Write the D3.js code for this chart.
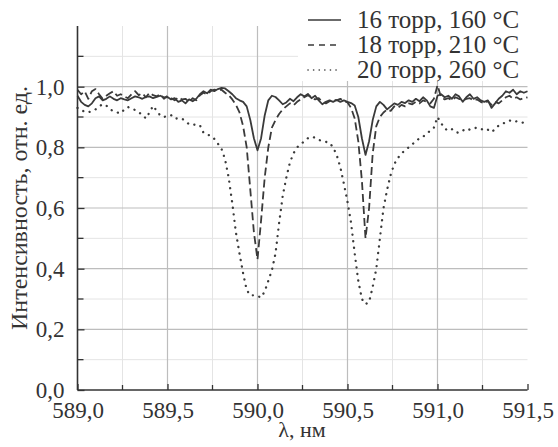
<!DOCTYPE html>
<html>
<head>
<meta charset="utf-8">
<title>Спектры поглощения</title>
<script src="https://cdn.jsdelivr.net/npm/d3@7/dist/d3.min.js"></script>
<style>
  body { margin: 0; background: #fff; }
  text { font-family: "Liberation Serif", "DejaVu Serif", serif; fill: #333; }
</style>
</head>
<body>
<script>

// wavelength grid, nm
var wavelength = [
  589.00, 589.02, 589.04, 589.06, 589.08, 589.10, 589.12, 589.14, 589.16, 589.18,
  589.20, 589.22, 589.24, 589.26, 589.28, 589.30, 589.32, 589.34, 589.36, 589.38,
  589.40, 589.42, 589.44, 589.46, 589.48, 589.50, 589.52, 589.54, 589.56, 589.58,
  589.60, 589.62, 589.64, 589.66, 589.68, 589.70, 589.72, 589.74, 589.76, 589.78,
  589.80, 589.82, 589.84, 589.86, 589.88, 589.90, 589.92, 589.94, 589.96, 589.98,
  590.00, 590.02, 590.04, 590.06, 590.08, 590.10, 590.12, 590.14, 590.16, 590.18,
  590.20, 590.22, 590.24, 590.26, 590.28, 590.30, 590.32, 590.34, 590.36, 590.38,
  590.40, 590.42, 590.44, 590.46, 590.48, 590.50, 590.52, 590.54, 590.56, 590.58,
  590.60, 590.62, 590.64, 590.66, 590.68, 590.70, 590.72, 590.74, 590.76, 590.78,
  590.80, 590.82, 590.84, 590.86, 590.88, 590.90, 590.92, 590.94, 590.96, 590.98,
  591.00, 591.02, 591.04, 591.06, 591.08, 591.10, 591.12, 591.14, 591.16, 591.18,
  591.20, 591.22, 591.24, 591.26, 591.28, 591.30, 591.32, 591.34, 591.36, 591.38,
  591.40, 591.42, 591.44, 591.46, 591.48, 591.50
];

// 16 торр, 160 °C
var torr16 = [
  0.970, 0.950, 0.940, 0.935, 0.945, 0.962, 0.968, 0.955, 0.960, 0.968,
  0.960, 0.955, 0.962, 0.958, 0.955, 0.962, 0.968, 0.965, 0.960, 0.966,
  0.968, 0.962, 0.966, 0.970, 0.965, 0.966, 0.958, 0.962, 0.950, 0.955,
  0.945, 0.958, 0.952, 0.960, 0.975, 0.985, 0.978, 0.990, 0.985, 0.992,
  0.996, 0.994, 0.985, 0.975, 0.962, 0.955, 0.950, 0.935, 0.890, 0.830,
  0.790, 0.830, 0.905, 0.955, 0.970, 0.966, 0.955, 0.942, 0.948, 0.960,
  0.952, 0.965, 0.975, 0.968, 0.976, 0.962, 0.970, 0.955, 0.942, 0.950,
  0.955, 0.950, 0.956, 0.950, 0.955, 0.950, 0.946, 0.938, 0.900, 0.830,
  0.775, 0.820, 0.890, 0.935, 0.950, 0.940, 0.925, 0.935, 0.945, 0.940,
  0.950, 0.946, 0.955, 0.950, 0.960, 0.952, 0.965, 0.955, 0.935, 0.930,
  0.970, 0.975, 0.965, 0.970, 0.960, 0.975, 0.968, 0.950, 0.965, 0.975,
  0.960, 0.965, 0.955, 0.950, 0.955, 0.930, 0.945, 0.960, 0.970, 0.985,
  0.980, 0.990, 0.975, 0.985, 0.980, 0.985
];

// 18 торр, 210 °C
var torr18 = [
  0.990, 0.975, 0.985, 0.960, 0.985, 0.992, 0.975, 0.960, 0.970, 0.978,
  0.985, 0.970, 0.975, 0.968, 0.962, 0.975, 0.985, 0.972, 0.978, 0.965,
  0.980, 0.972, 0.968, 0.975, 0.960, 0.970, 0.962, 0.955, 0.965, 0.958,
  0.960, 0.950, 0.962, 0.955, 0.972, 0.980, 0.975, 0.985, 0.990, 0.988,
  0.990, 0.980, 0.972, 0.958, 0.940, 0.915, 0.870, 0.800, 0.660, 0.520,
  0.430, 0.560, 0.700, 0.800, 0.865, 0.890, 0.910, 0.925, 0.935, 0.945,
  0.938, 0.950, 0.958, 0.965, 0.972, 0.965, 0.958, 0.962, 0.950, 0.945,
  0.952, 0.958, 0.955, 0.960, 0.952, 0.948, 0.930, 0.895, 0.820, 0.690,
  0.500, 0.600, 0.780, 0.870, 0.900, 0.915, 0.925, 0.920, 0.935, 0.930,
  0.940, 0.935, 0.945, 0.942, 0.950, 0.945, 0.955, 0.950, 0.945, 0.960,
  1.005, 0.965, 0.958, 0.962, 0.955, 0.965, 0.960, 0.955, 0.960, 0.962,
  0.955, 0.958, 0.950, 0.945, 0.952, 0.940, 0.950, 0.945, 0.955, 0.965,
  0.970, 0.960, 0.965, 0.958, 0.962, 0.965
];

// 20 торр, 260 °C
var torr20 = [
  0.930, 0.922, 0.918, 0.915, 0.920, 0.925, 0.935, 0.942, 0.938, 0.925,
  0.920, 0.915, 0.912, 0.925, 0.933, 0.928, 0.923, 0.915, 0.908, 0.895,
  0.915, 0.937, 0.920, 0.905, 0.900, 0.903, 0.906, 0.895, 0.895, 0.895,
  0.886, 0.876, 0.875, 0.874, 0.873, 0.848, 0.842, 0.838, 0.828, 0.812,
  0.795, 0.760, 0.700, 0.615, 0.520, 0.450, 0.385, 0.330, 0.312, 0.312,
  0.310, 0.305, 0.325, 0.360, 0.395, 0.450, 0.550, 0.640, 0.700, 0.750,
  0.780, 0.800, 0.810, 0.820, 0.830, 0.835, 0.832, 0.825, 0.820, 0.818,
  0.815, 0.800, 0.775, 0.735, 0.680, 0.620, 0.550, 0.450, 0.360, 0.300,
  0.283, 0.290, 0.340, 0.400, 0.500, 0.600, 0.660, 0.710, 0.745, 0.765,
  0.780, 0.790, 0.800, 0.810, 0.820, 0.830, 0.835, 0.845, 0.855, 0.865,
  0.900, 0.880, 0.862, 0.855, 0.860, 0.850, 0.848, 0.855, 0.862, 0.858,
  0.862, 0.865, 0.862, 0.855, 0.858, 0.850, 0.860, 0.872, 0.878, 0.882,
  0.888, 0.890, 0.885, 0.884, 0.880, 0.878
];

var seriesNames = ["16 торр, 160 °C", "18 торр, 210 °C", "20 торр, 260 °C"];
var xTicks = [589.0, 589.5, 590.0, 590.5, 591.0, 591.5];
var yTicks = [0.0, 0.2, 0.4, 0.6, 0.8, 1.0];

var width = 558, height = 447;
var plotLeft = 77.5, plotRight = 527.5, plotBottom = 390, plotTop = 26;

var svg = d3.select("body").append("svg")
    .attr("width", width)
    .attr("height", height);

var x = d3.scaleLinear().domain([589.0, 591.5]).range([plotLeft, plotRight]);
var y = d3.scaleLinear().domain([0, 1.2]).range([plotBottom, plotTop]);

var comma = function (v) { return d3.format(".1f")(v).replace(".", ","); };

// grid: minor lines first, then major
var xMinor = [589.25, 589.75, 590.25, 590.75, 591.25];
var yMinor = [0.1, 0.3, 0.5, 0.7, 0.9, 1.1];

var grid = svg.append("g");
grid.selectAll(".vminor").data(xMinor).enter().append("line")
    .attr("x1", x).attr("x2", x).attr("y1", plotBottom).attr("y2", plotTop)
    .style("stroke", "#e4e4e4").style("stroke-width", 1);
grid.selectAll(".hminor").data(yMinor).enter().append("line")
    .attr("x1", plotLeft).attr("x2", plotRight).attr("y1", y).attr("y2", y)
    .style("stroke", "#e4e4e4").style("stroke-width", 1);
grid.selectAll(".vmajor").data(xTicks.slice(1, 5)).enter().append("line")
    .attr("x1", x).attr("x2", x).attr("y1", plotBottom).attr("y2", plotTop)
    .style("stroke", "#bdbdbd").style("stroke-width", 1.2);
grid.selectAll(".hmajor").data(yTicks.slice(1)).enter().append("line")
    .attr("x1", plotLeft).attr("x2", plotRight).attr("y1", y).attr("y2", y)
    .style("stroke", "#bdbdbd").style("stroke-width", 1.2);

// curves
var line = d3.line()
    .x(function (d) { return x(d[0]); })
    .y(function (d) { return y(d[1]); });

var styles = [
  { dash: null, w: 1.8, cap: "butt" },
  { dash: "8,4", w: 1.8, cap: "butt" },
  { dash: "0.1,6.5", w: 2.3, cap: "round" }
];

[torr16, torr18, torr20].forEach(function (vals, i) {
  svg.append("path")
      .datum(d3.zip(wavelength, vals))
      .attr("d", line)
      .style("fill", "none")
      .style("stroke", "#3a3a3a")
      .style("stroke-width", styles[i].w)
      .style("stroke-linecap", styles[i].cap)
      .style("stroke-linejoin", "round")
      .style("stroke-dasharray", styles[i].dash);
});

// axes
var xAxis = d3.axisBottom(x).tickValues(xTicks).tickFormat(comma).tickSizeInner(-6).tickSizeOuter(0).tickPadding(12);
var yAxis = d3.axisLeft(y).tickValues(yTicks).tickFormat(comma).tickSizeInner(-7).tickSizeOuter(0).tickPadding(13);

var gx = svg.append("g").attr("transform", "translate(0," + plotBottom + ")").call(xAxis);
var gy = svg.append("g").attr("transform", "translate(" + plotLeft + ",0)").call(yAxis);

// minor ticks
gx.selectAll(".minor").data(xMinor).enter().append("line")
    .attr("x1", x).attr("x2", x).attr("y1", 0).attr("y2", -5)
    .style("stroke", "#333").style("stroke-width", 1.3);
gy.selectAll(".minor").data(yMinor).enter().append("line")
    .attr("y1", y).attr("y2", y).attr("x1", 0).attr("x2", 6)
    .style("stroke", "#333").style("stroke-width", 1.3);

[gx, gy].forEach(function (g) {
  g.select(".domain").style("stroke", "#333").style("stroke-width", 1.6);
  g.selectAll(".tick line").style("stroke", "#333").style("stroke-width", 1.3);
  g.selectAll("text")
      .style("font-family", "'Liberation Serif', serif")
      .style("font-size", "23px")
      .style("fill", "#333");
});
gy.select(".domain").attr("d", "M0," + plotBottom + "V" + plotTop);
gx.select(".domain").attr("d", "M" + plotLeft + ",0H" + plotRight);

// axis titles
svg.append("text")
    .attr("x", 302).attr("y", 437)
    .attr("text-anchor", "middle")
    .style("font-size", "22px")
    .text("λ, нм");

svg.append("text")
    .attr("transform", "translate(27,208) rotate(-90)")
    .attr("text-anchor", "middle")
    .style("font-size", "24px")
    .text("Интенсивность, отн. ед.");

// legend
var legend = svg.append("g");
legend.append("rect")
    .attr("x", 298).attr("y", 0).attr("width", 260).attr("height", 81)
    .style("fill", "#fff");

seriesNames.forEach(function (name, i) {
  var ly = 20 + i * 25;
  legend.append("line")
      .attr("x1", 308).attr("x2", 341).attr("y1", ly).attr("y2", ly)
      .style("stroke", "#3a3a3a")
      .style("stroke-width", i === 2 ? 1.6 : 1.7)
      .style("stroke-linecap", styles[i].cap)
      .style("stroke-dasharray", i === 2 ? "0.1,5.5" : (i === 1 ? "6,5" : null));
  legend.append("text")
      .attr("x", 357).attr("y", ly + 8)
      .style("font-size", "25px")
      .text(name);
});

</script>
</body>
</html>
